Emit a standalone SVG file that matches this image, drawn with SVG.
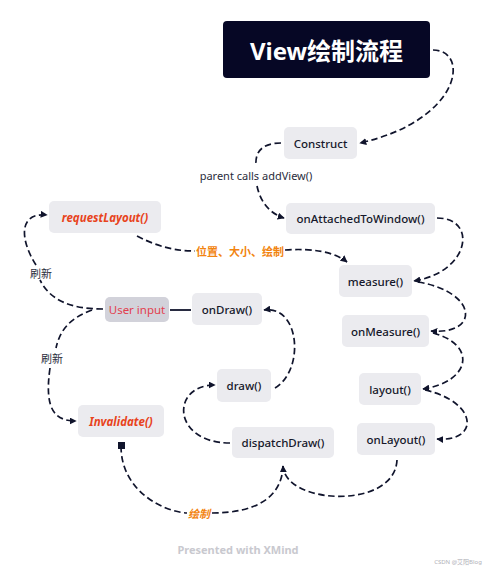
<svg xmlns="http://www.w3.org/2000/svg" width="500" height="570" viewBox="0 0 500 570">
<defs>
<marker id="arr" viewBox="0 0 10 10" refX="9" refY="5" markerWidth="7" markerHeight="7" markerUnits="userSpaceOnUse" orient="auto">
<path d="M0,0 L10,5 L0,10 z" fill="#10142c"/>
</marker>
<style>
.n{fill:#ebebef}
.t{font-family:"Noto Sans","Open Sans",sans-serif;font-size:11.5px;font-weight:500;fill:#15172a;text-anchor:middle;dominant-baseline:central}
.r{font-family:"Noto Sans","Open Sans",sans-serif;font-size:11.5px;font-weight:700;font-style:italic;fill:#e8431c;text-anchor:middle;dominant-baseline:central}
.c{fill:none;stroke:#10142c;stroke-width:1.7;stroke-dasharray:6.5 3.5}
.l{font-family:"Noto Sans","Noto Sans CJK SC",sans-serif;font-size:11px;fill:#2a2c3c;text-anchor:middle;dominant-baseline:central}
.o{font-family:"Noto Sans","Noto Sans CJK SC",sans-serif;font-size:11px;font-weight:700;fill:#f28410;text-anchor:middle;dominant-baseline:central}
</style>
</defs>
<rect width="500" height="570" fill="#ffffff"/>
<g id="connectors">
<path class="c" d="M433,50 C470,50 462,120 360,143" marker-end="url(#arr)"/>
<path class="c" d="M281,143 C262,143 255,152 256,165"/>
<path class="c" d="M257,186 C260,200 268,213 284,218" marker-end="url(#arr)"/>
<path class="c" d="M437,218 C478,218 470,272 414,281" marker-end="url(#arr)"/>
<path class="c" d="M418,282 C478,292 480,335 431,331" marker-end="url(#arr)"/>
<path class="c" d="M433,333 C478,345 470,382 423,389" marker-end="url(#arr)"/>
<path class="c" d="M425,390 C478,402 480,442 437,439" marker-end="url(#arr)"/>
<path class="c" d="M397,460 C395,510 285,505 283,466" marker-end="url(#arr)"/>
<path class="c" d="M121,446 C121,492 165,512 187,513"/>
<path class="c" d="M212,513 C255,513 282,498 283,466"/>
<path class="c" d="M230,443 C172,443 170,385 215,385" marker-end="url(#arr)"/>
<path class="c" d="M275,388 C305,370 300,305 264,310" marker-end="url(#arr)"/>
<path d="M170,310 L191,310" fill="none" stroke="#10142c" stroke-width="1.8"/>
<path class="c" d="M103,309 C70,309 50,300 40,280"/>
<path class="c" d="M36,265 C20,240 18,212 47,215" marker-end="url(#arr)"/>
<path class="c" d="M92,310 C70,318 60,330 56,348"/>
<path class="c" d="M50,368 C44,410 55,421 76,421" marker-end="url(#arr)"/>
<path class="c" d="M137,236 C160,248 178,251 195,251"/>
<path class="c" d="M285,250 C312,248 335,252 347,262" marker-end="url(#arr)"/>
<rect x="118" y="442" width="7" height="7" fill="#10142c"/>
</g>
<g id="title">
<rect x="223" y="21" width="207" height="57" rx="4" fill="#060725"/>
<text x="326.5" y="50" font-family="'Noto Sans','Noto Sans CJK SC',sans-serif" font-size="24" font-weight="700" fill="#ffffff" text-anchor="middle" dominant-baseline="central">View绘制流程</text>
</g>
<g id="construct"><rect class="n" x="284" y="127" width="73" height="32" rx="5"/><text class="t" x="320.5" y="143">Construct</text></g>
<g id="label-addview"><text class="l" x="256" y="175">parent calls addView()</text></g>
<g id="onattached"><rect class="n" x="286" y="203" width="149" height="31" rx="5"/><text class="t" x="360.5" y="218.5">onAttachedToWindow()</text></g>
<g id="measure"><rect class="n" x="339" y="265" width="73" height="32" rx="5"/><text class="t" x="375.5" y="281">measure()</text></g>
<g id="onmeasure"><rect class="n" x="342" y="315" width="87" height="32" rx="5"/><text class="t" x="385.5" y="331">onMeasure()</text></g>
<g id="layout"><rect class="n" x="359" y="373" width="62" height="32" rx="5"/><text class="t" x="390" y="389">layout()</text></g>
<g id="onlayout"><rect class="n" x="357" y="423" width="78" height="32" rx="5"/><text class="t" x="396" y="439">onLayout()</text></g>
<g id="dispatchdraw"><rect class="n" x="232" y="427" width="102" height="31" rx="5"/><text class="t" x="283" y="442.5">dispatchDraw()</text></g>
<g id="draw"><rect class="n" x="217" y="369" width="54" height="33" rx="5"/><text class="t" x="244" y="385.5">draw()</text></g>
<g id="ondraw"><rect class="n" x="192" y="293" width="70" height="32" rx="5"/><text class="t" x="227" y="309">onDraw()</text></g>
<g id="userinput"><rect x="105" y="297" width="64" height="25" rx="5" fill="#d2d2da"/><text class="t" x="137" y="309.5" style="fill:#e2404e;font-weight:400">User input</text></g>
<g id="requestlayout"><rect class="n" x="49" y="201" width="112" height="32" rx="5"/><text class="r" x="105" y="217">requestLayout()</text></g>
<g id="invalidate"><rect class="n" x="78" y="405" width="86" height="32" rx="5"/><text class="r" x="121" y="421">Invalidate()</text></g>
<g id="labels">
<text class="l" x="41" y="273">刷新</text>
<text class="l" x="52" y="358">刷新</text>
<text class="o" x="240" y="251">位置、大小、绘制</text>
<text class="o" x="199" y="513" font-style="italic">绘制</text>
</g>
<g id="footer">
<text x="238" y="549" font-family="'Noto Sans',sans-serif" font-size="11" font-weight="700" fill="#c9c9cf" text-anchor="middle" dominant-baseline="central">Presented with XMind</text>
<text x="458" y="562" font-family="'Noto Sans','Noto Sans CJK SC',sans-serif" font-size="6" fill="#b0b0b8" text-anchor="middle" dominant-baseline="central">CSDN @艾阳Blog</text>
</g>
</svg>
